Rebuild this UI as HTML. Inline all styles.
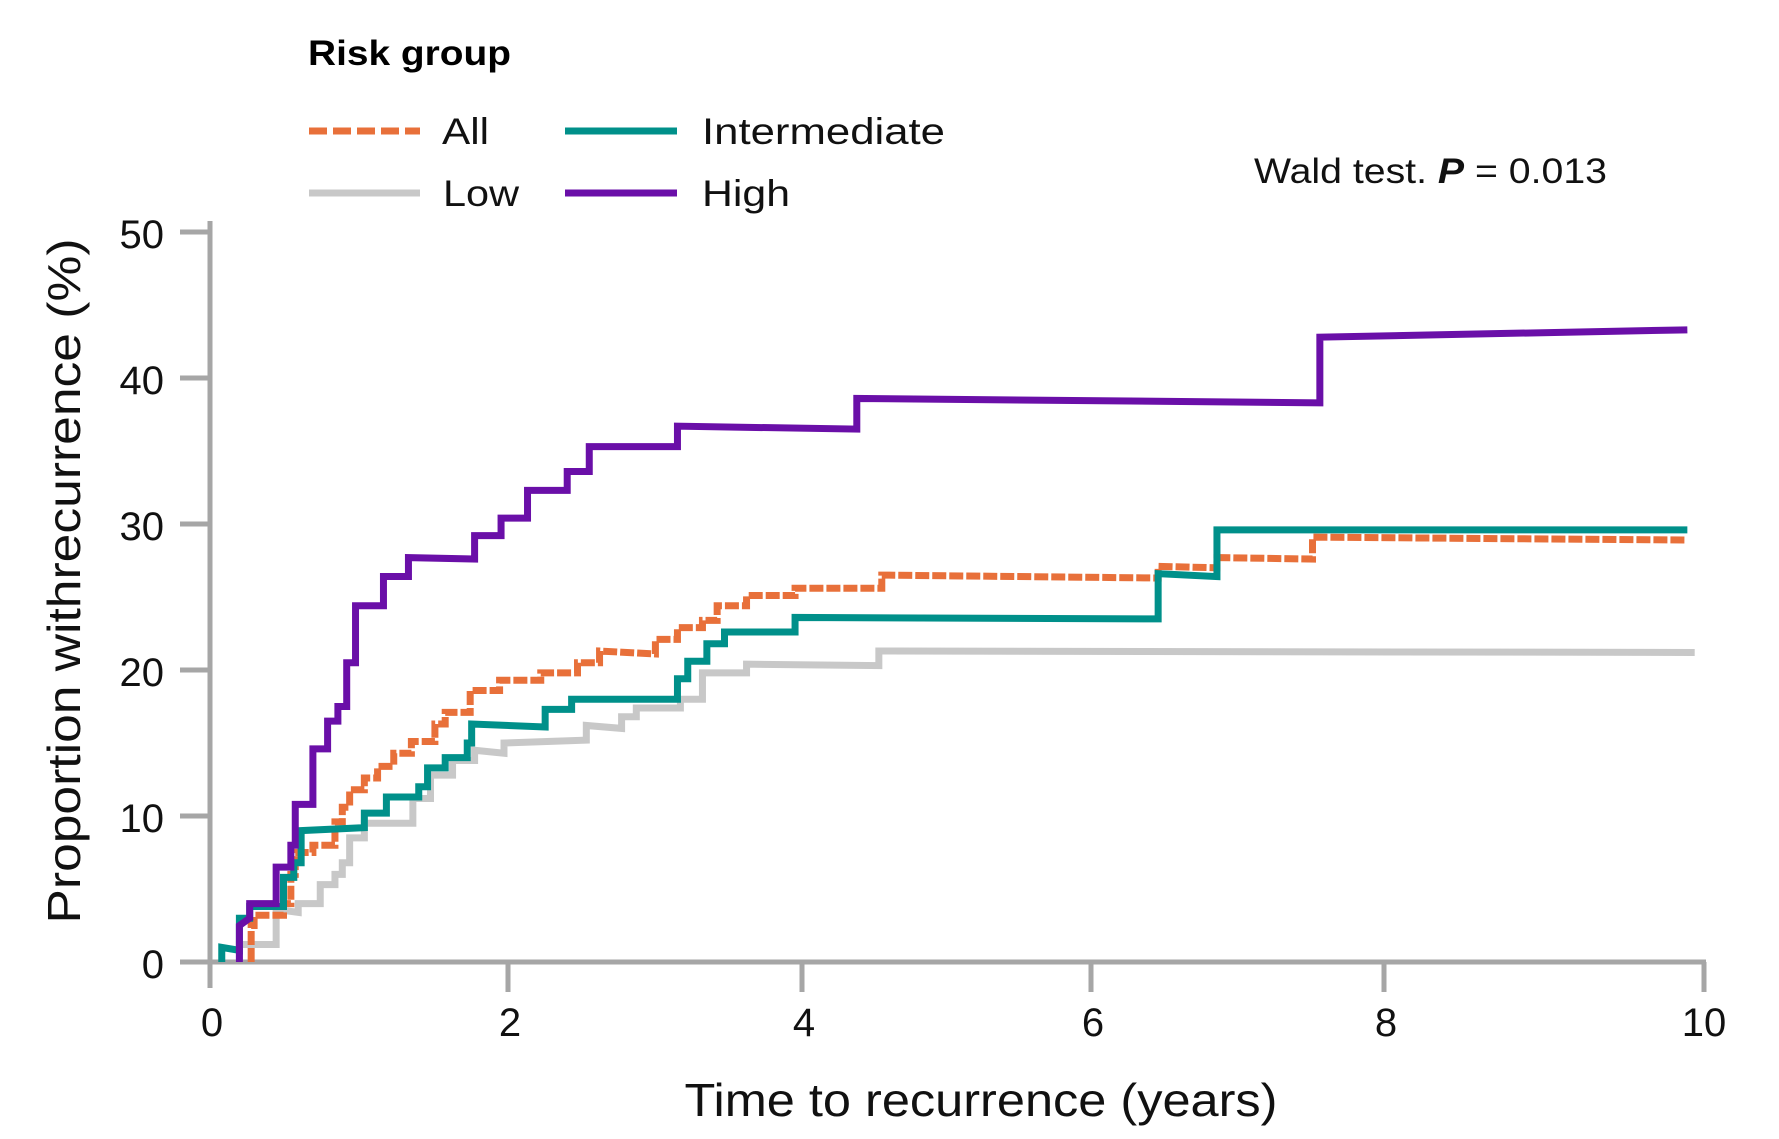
<!DOCTYPE html>
<html><head><meta charset="utf-8"><style>
html,body{margin:0;padding:0;background:#fff;}
svg{display:block;font-family:"Liberation Sans",sans-serif;}
</style></head><body>
<svg width="1779" height="1139" viewBox="0 0 1779 1139" xmlns="http://www.w3.org/2000/svg">
<!-- legend -->
<text x="308" y="65" font-size="35" font-weight="bold" fill="#000" textLength="203" lengthAdjust="spacingAndGlyphs">Risk group</text>
<line x1="309" y1="131" x2="420" y2="131" stroke="#E8703A" stroke-width="7" stroke-dasharray="18,6"/>
<text x="442" y="144" font-size="37" fill="#111" textLength="47" lengthAdjust="spacingAndGlyphs">All</text>
<line x1="565" y1="131" x2="677" y2="131" stroke="#00908A" stroke-width="7"/>
<text x="702" y="144" font-size="37" fill="#111" textLength="243" lengthAdjust="spacingAndGlyphs">Intermediate</text>
<line x1="309" y1="193" x2="420" y2="193" stroke="#C8C8C8" stroke-width="7"/>
<text x="443" y="206" font-size="37" fill="#111" textLength="76" lengthAdjust="spacingAndGlyphs">Low</text>
<line x1="565" y1="193" x2="677" y2="193" stroke="#6A0FA8" stroke-width="7"/>
<text x="702" y="206" font-size="37" fill="#111" textLength="88" lengthAdjust="spacingAndGlyphs">High</text>
<text x="1254" y="183" font-size="35" fill="#111" textLength="353" lengthAdjust="spacingAndGlyphs">Wald test. <tspan font-style="italic" font-weight="bold">P</tspan> = 0.013</text>

<!-- axes -->
<g stroke="#A6A6A6" stroke-width="5" fill="none">
<line x1="210" y1="221" x2="210" y2="988"/>
<line x1="180" y1="962" x2="1706" y2="962"/>
<line x1="180" y1="232" x2="210" y2="232"/>
<line x1="180" y1="378" x2="210" y2="378"/>
<line x1="180" y1="524" x2="210" y2="524"/>
<line x1="180" y1="670" x2="210" y2="670"/>
<line x1="180" y1="816" x2="210" y2="816"/>
<line x1="508" y1="962" x2="508" y2="992"/>
<line x1="802" y1="962" x2="802" y2="992"/>
<line x1="1091" y1="962" x2="1091" y2="992"/>
<line x1="1384" y1="962" x2="1384" y2="992"/>
<line x1="1704" y1="962" x2="1704" y2="992"/>
</g>
<g font-size="40" fill="#111" text-anchor="end">
<text x="164" y="248">50</text><text x="164" y="394">40</text><text x="164" y="540">30</text>
<text x="164" y="686">20</text><text x="164" y="832">10</text><text x="164" y="978">0</text>
</g>
<g font-size="40" fill="#111" text-anchor="middle">
<text x="212" y="1036">0</text><text x="510" y="1036">2</text><text x="804" y="1036">4</text>
<text x="1093" y="1036">6</text><text x="1386" y="1036">8</text><text x="1704" y="1036">10</text>
</g>
<text x="981" y="1116" font-size="46" fill="#111" text-anchor="middle" textLength="593" lengthAdjust="spacingAndGlyphs">Time to recurrence (years)</text>
<text transform="translate(80,581) rotate(-90)" font-size="46" fill="#111" text-anchor="middle" textLength="685" lengthAdjust="spacingAndGlyphs">Proportion withrecurrence (%)</text>

<g transform="translate(210,962) scale(147,-14.6)" fill="none" stroke-linejoin="miter">
<path vector-effect="non-scaling-stroke" stroke="#C8C8C8" stroke-width="7" d="M0.2 0 V1.2 H0.45 V3.6 L0.6 3.4 V4 H0.75 V5.3 H0.85 V6 H0.9 V6.8 H0.95 V8.5 H1.05 V9.5 H1.38 V11.2 H1.5 V12.8 H1.65 V13.8 H1.8 V14.5 L2 14.3 V15 L2.56 15.2 V16.2 L2.8 16 V16.8 H2.9 V17.4 H3.2 V18 H3.35 V19.8 H3.65 V20.4 L4.55 20.3 V21.3 L10.1 21.2"/>
<path vector-effect="non-scaling-stroke" stroke="#E8703A" stroke-width="7" stroke-dasharray="14,3" d="M0.28 0 V2.5 H0.3 V3.2 H0.5 V4 H0.55 V6 H0.58 V7.5 H0.7 V8 H0.85 V9.6 H0.9 V10.6 H0.95 V11.8 H1.05 V12.6 H1.14 V13.4 H1.25 V14.3 H1.37 V15.1 H1.53 V16.3 H1.6 V17.1 H1.77 V18.6 H1.97 V19.3 H2.25 V19.8 H2.5 V20.5 H2.65 V21.3 L3.03 21.1 V22.1 H3.18 V22.9 H3.35 V23.4 H3.45 V24.4 H3.65 V25.1 H3.98 V25.6 H4.57 V26.5 L6.45 26.3 V27.1 L6.85 27 V27.7 L7.5 27.6 V29.1 L10.05 28.9"/>
<path vector-effect="non-scaling-stroke" stroke="#00908A" stroke-width="7" d="M0.08 0 V1 L0.2 0.8 V3 H0.27 V3.8 H0.5 V5.8 H0.57 V6.8 H0.62 V9 L1.05 9.2 V10.2 H1.2 V11.3 H1.42 V12 H1.48 V13.3 H1.6 V14 H1.75 V15 H1.78 V16.3 L2.28 16.1 V17.3 H2.46 V18 H3.18 V19.4 H3.25 V20.6 H3.38 V21.8 H3.5 V22.6 H3.98 V23.6 L6.45 23.5 V26.6 L6.85 26.4 V29.6 H10.05"/>
<path vector-effect="non-scaling-stroke" stroke="#6A0FA8" stroke-width="7" d="M0.2 0 V2.5 L0.27 3 V4 H0.45 V6.5 H0.55 V8 H0.58 V10.8 H0.7 V14.6 H0.8 V16.5 H0.87 V17.5 H0.93 V20.5 H0.99 V24.4 H1.18 V26.4 H1.35 V27.7 L1.8 27.6 V29.2 H1.98 V30.4 H2.16 V32.3 H2.43 V33.6 H2.58 V35.3 H3.18 V36.7 L4.4 36.5 V38.6 L7.55 38.3 V42.8 L10.05 43.3"/>
</g>
</svg>
</body></html>
